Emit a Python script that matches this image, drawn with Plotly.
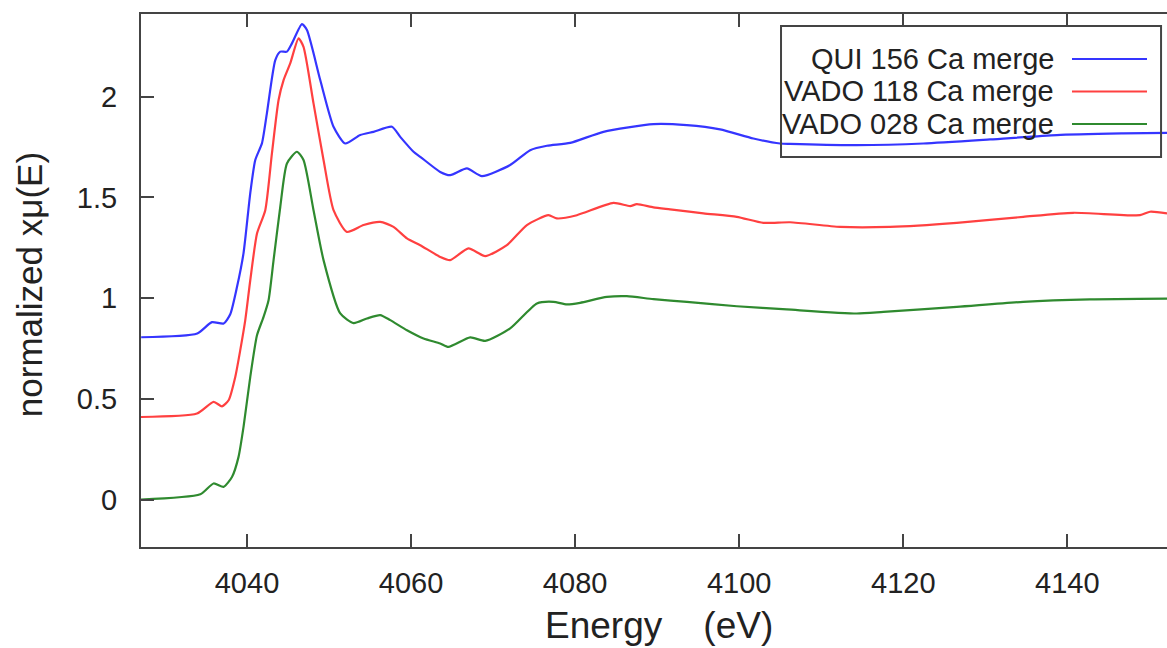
import plotly.graph_objects as go

# ---------------- data ----------------
series_names = ["QUI 156 Ca merge", "VADO 118 Ca merge", "VADO 028 Ca merge"]
series_colors = ["#3535ff", "#ff4040", "#2f8a2f"]

qui156_energy = [4027.1, 4033.94, 4035.73, 4037.15, 4037.96, 4038.78, 4039.58, 4040.40,
                 4041.01, 4041.83, 4042.43, 4043.45, 4044.06, 4044.87, 4045.48, 4046.70,
                 4047.31, 4048.93, 4050.55, 4051.98, 4053.80, 4055.43, 4057.67, 4058.68,
                 4060.30, 4061.12, 4063.55, 4064.77, 4066.81, 4068.63, 4072.08, 4074.52,
                 4076.56, 4079.40, 4083.45, 4089.55, 4093.62, 4097.67, 4101.73, 4104.99,
                 4106.20, 4114.33, 4122.45, 4130.58, 4138.71, 4146.82, 4152.15]
qui156_mu = [0.806, 0.825, 0.881, 0.874, 0.920, 1.055, 1.224, 1.522,
             1.686, 1.770, 1.919, 2.182, 2.224, 2.224, 2.265, 2.361,
             2.331, 2.083, 1.851, 1.768, 1.810, 1.826, 1.851, 1.801,
             1.727, 1.702, 1.627, 1.611, 1.644, 1.606, 1.661, 1.735,
             1.757, 1.771, 1.826, 1.864, 1.859, 1.838, 1.793, 1.768,
             1.766, 1.760, 1.768, 1.788, 1.810, 1.818, 1.821]

vado118_energy = [4027.0, 4033.90, 4035.93, 4036.95, 4037.76, 4038.57, 4039.18, 4039.79,
                  4040.40, 4041.22, 4042.23, 4043.04, 4043.85, 4044.46, 4045.27, 4046.29,
                  4046.89, 4048.11, 4049.33, 4050.55, 4052.18, 4054.21, 4056.24, 4057.86,
                  4059.50, 4061.12, 4063.55, 4064.77, 4067.00, 4069.04, 4071.68, 4074.12,
                  4076.75, 4077.77, 4080.21, 4084.67, 4086.71, 4087.52, 4089.55, 4091.58,
                  4095.64, 4099.71, 4102.95, 4106.20, 4112.30, 4118.39, 4126.52, 4134.63,
                  4140.73, 4148.86, 4150.08, 4152.15]
vado118_mu = [0.410, 0.427, 0.485, 0.463, 0.493, 0.609, 0.742, 0.891,
              1.089, 1.321, 1.437, 1.719, 1.984, 2.083, 2.166, 2.290,
              2.248, 1.967, 1.686, 1.437, 1.329, 1.363, 1.379, 1.354,
              1.297, 1.263, 1.205, 1.189, 1.247, 1.209, 1.263, 1.363,
              1.412, 1.396, 1.412, 1.473, 1.457, 1.467, 1.451, 1.441,
              1.421, 1.404, 1.374, 1.377, 1.354, 1.354, 1.374, 1.404,
              1.424, 1.412, 1.429, 1.421]

vado028_energy = [4027.0, 4034.31, 4035.93, 4037.15, 4038.17, 4038.97, 4039.58, 4040.40,
                  4041.22, 4042.02, 4042.63, 4043.24, 4044.06, 4044.87, 4046.09, 4046.89,
                  4048.11, 4049.33, 4051.37, 4052.99, 4054.62, 4056.24, 4057.46, 4059.50,
                  4061.52, 4063.55, 4064.56, 4067.21, 4069.04, 4072.08, 4075.34, 4077.36,
                  4078.99, 4080.61, 4083.87, 4086.30, 4089.55, 4093.62, 4099.71, 4105.80,
                  4114.33, 4117.58, 4126.52, 4134.63, 4142.76, 4152.15]
vado028_mu = [0.000, 0.026, 0.080, 0.063, 0.112, 0.212, 0.361, 0.609,
              0.816, 0.907, 0.990, 1.189, 1.454, 1.669, 1.727, 1.686,
              1.437, 1.189, 0.924, 0.876, 0.899, 0.916, 0.891, 0.841,
              0.800, 0.775, 0.758, 0.805, 0.788, 0.850, 0.974, 0.982,
              0.969, 0.977, 1.006, 1.010, 0.995, 0.982, 0.960, 0.944,
              0.924, 0.932, 0.957, 0.982, 0.994, 0.998]

x_tick_vals = [4040, 4060, 4080, 4100, 4120, 4140]
x_tick_text = ["4040", "4060", "4080", "4100", "4120", "4140"]
y_tick_vals = [0, 0.5, 1, 1.5, 2]
y_tick_text = ["0", "0.5", "1", "1.5", "2"]

x_title = "Energy\u00a0\u00a0\u00a0\u00a0(eV)"
y_title = "normalized x\u03bc(E)"

# ---------------- figure ----------------
FONT = "Liberation Sans, Arial, sans-serif"
AXIS_COLOR = "#444444"

xs = [qui156_energy, vado118_energy, vado028_energy]
ys = [qui156_mu, vado118_mu, vado028_mu]

fig = go.Figure()
for name, color, x, y in zip(series_names, series_colors, xs, ys):
    fig.add_trace(go.Scatter(
        x=x, y=y, mode="lines", name=name,
        line=dict(color=color, width=2.2, shape="spline", smoothing=0.6),
        showlegend=False,
    ))

fig.update_layout(
    width=1167, height=648,
    margin=dict(l=141, r=0, t=14, b=101),
    paper_bgcolor="white", plot_bgcolor="white",
    font=dict(family=FONT, size=28, color="#222222"),
    showlegend=False,
)

fig.update_xaxes(
    range=[4027.08, 4152.15],
    tickvals=x_tick_vals, ticktext=x_tick_text,
    ticks="inside", ticklen=13, tickwidth=2, tickcolor=AXIS_COLOR,
    showline=True, linecolor=AXIS_COLOR, linewidth=2, mirror="ticks",
    showgrid=False, zeroline=False,
    tickfont=dict(family=FONT, size=29, color="#222222"),
    ticklabelstandoff=9,
)
fig.update_yaxes(
    range=[-0.2355, 2.411],
    tickvals=y_tick_vals, ticktext=y_tick_text,
    ticks="inside", ticklen=13, tickwidth=2, tickcolor=AXIS_COLOR,
    showline=True, linecolor=AXIS_COLOR, linewidth=2, mirror=False,
    showgrid=False, zeroline=False,
    tickfont=dict(family=FONT, size=29, color="#222222"),
    ticklabelstandoff=16,
)

# axis titles
fig.add_annotation(text=x_title, xref="paper", yref="paper", x=0.5049, y=-0.148,
                   xanchor="center", yanchor="middle", showarrow=False,
                   font=dict(family=FONT, size=37, color="#222222"))
fig.add_annotation(text=y_title, xref="paper", yref="paper", x=-0.108, y=0.4916,
                   xanchor="center", yanchor="middle", showarrow=False, textangle=-90,
                   font=dict(family=FONT, size=35, color="#222222"))

# legend (gnuplot style: right-aligned text followed by line sample, framed box)
legend_rows_y = [0.9156, 0.8546, 0.7936]
fig.add_shape(type="rect", xref="paper", yref="paper", x0=0.6238, x1=0.9942,
              y0=0.7317, y1=0.9775, line=dict(color=AXIS_COLOR, width=2),
              fillcolor="rgba(0,0,0,0)")
for name, color, ry in zip(series_names, series_colors, legend_rows_y):
    fig.add_annotation(text=name, xref="paper", yref="paper", x=0.8918, y=ry,
                       xanchor="right", yanchor="middle", showarrow=False,
                       font=dict(family=FONT, size=29, color="#222222"))
    fig.add_shape(type="line", xref="paper", yref="paper", x0=0.9074, x1=0.9805,
                  y0=ry, y1=ry, line=dict(color=color, width=2))

fig.write_html("out.html")
